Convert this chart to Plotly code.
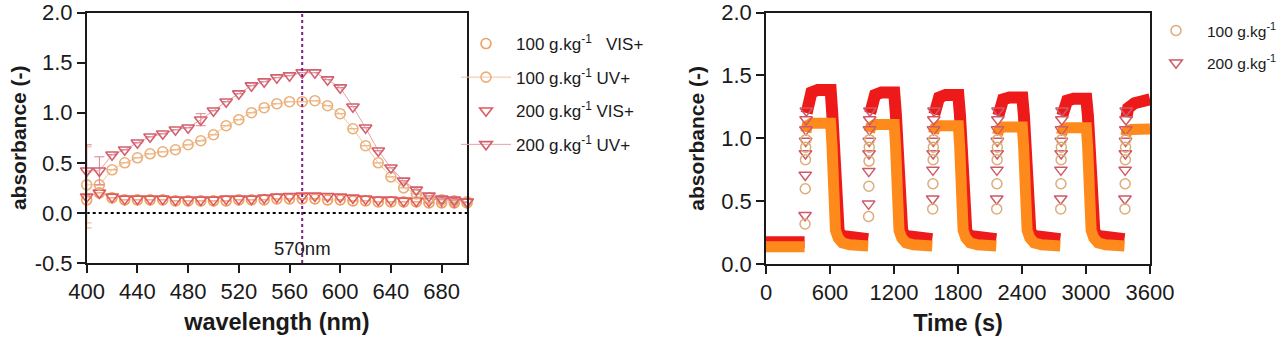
import plotly.graph_objects as go

# ---------------- Left panel: spectra ----------------
wavelength_nm = [400, 410, 420, 430, 440, 450, 460, 470, 480, 490, 500, 510, 520, 530, 540, 550,
                 560, 570, 580, 590, 600, 610, 620, 630, 640, 650, 660, 670, 680, 690, 700]
abs_100_uv = [0.28, 0.28, 0.43, 0.50, 0.55, 0.59, 0.61, 0.63, 0.68, 0.72, 0.78, 0.87, 0.93, 1.00, 1.05, 1.09,
              1.11, 1.11, 1.12, 1.07, 0.99, 0.84, 0.67, 0.50, 0.36, 0.25, 0.19, 0.15, 0.13, 0.12, 0.11]
abs_200_uv = [0.42, 0.42, 0.58, 0.63, 0.70, 0.76, 0.79, 0.83, 0.85, 0.93, 1.02, 1.11, 1.19, 1.27, 1.31, 1.35,
              1.37, 1.40, 1.40, 1.33, 1.25, 1.06, 0.85, 0.62, 0.45, 0.32, 0.23, 0.17, 0.14, 0.13, 0.11]
abs_100_vis = [0.13, 0.20, 0.15, 0.13, 0.13, 0.13, 0.13, 0.12, 0.12, 0.12, 0.12, 0.12, 0.13, 0.13, 0.13, 0.14,
               0.14, 0.14, 0.14, 0.13, 0.13, 0.12, 0.12, 0.11, 0.11, 0.11, 0.11, 0.10, 0.10, 0.10, 0.10]
abs_200_vis = [0.16, 0.20, 0.16, 0.14, 0.14, 0.14, 0.14, 0.13, 0.13, 0.13, 0.13, 0.14, 0.14, 0.14, 0.15, 0.16,
               0.165, 0.17, 0.17, 0.165, 0.16, 0.15, 0.14, 0.13, 0.13, 0.12, 0.12, 0.12, 0.12, 0.11, 0.11]
err_200_uv = {400: 0.26, 410: 0.14, 490: 0.06}
err_100_uv = {400: 0.38}
err_100_vis = {400: 0.28}
peak_nm = 570
x_ticks_nm = [400, 440, 480, 520, 560, 600, 640, 680]
y_ticks_left = [-0.5, 0.0, 0.5, 1.0, 1.5, 2.0]
y_ticktext_left = ["-0.5", "0.0", "0.5", "1.0", "1.5", "2.0"]

# ---------------- Right panel: cycling ----------------
t100_line = [0, 120, 240, 362, None,
             374, 386, 426, 516, 606, 618, 628, 638, 651, 676, 716, 786, 866, 958, None,
             970, 982, 1022, 1112, 1202, 1214, 1224, 1234, 1247, 1272, 1312, 1382, 1462, 1559, None,
             1571, 1583, 1623, 1713, 1803, 1815, 1825, 1835, 1848, 1873, 1913, 1983, 2063, 2159, None,
             2171, 2183, 2223, 2313, 2403, 2415, 2425, 2435, 2448, 2473, 2513, 2583, 2663, 2759, None,
             2771, 2783, 2823, 2913, 3003, 3015, 3025, 3035, 3048, 3073, 3113, 3183, 3263, 3361, None,
             3373, 3385, 3425, 3515, 3600]
a100_line = [0.14, 0.14, 0.14, 0.14, None,
             1.05, 1.10, 1.12, 1.12, 1.12, 0.95, 0.65, 0.40, 0.27, 0.21, 0.17, 0.155, 0.15, 0.145, None,
             1.05, 1.09, 1.11, 1.11, 1.11, 0.95, 0.65, 0.40, 0.27, 0.21, 0.17, 0.155, 0.15, 0.145, None,
             1.04, 1.08, 1.10, 1.10, 1.10, 0.95, 0.65, 0.40, 0.27, 0.21, 0.17, 0.155, 0.15, 0.145, None,
             1.03, 1.07, 1.09, 1.09, 1.09, 0.94, 0.65, 0.40, 0.27, 0.21, 0.17, 0.155, 0.15, 0.145, None,
             1.03, 1.07, 1.085, 1.085, 1.085, 0.94, 0.65, 0.40, 0.27, 0.21, 0.17, 0.155, 0.15, 0.145, None,
             1.02, 1.06, 1.07, 1.075, 1.075]
t200_line = [0, 120, 240, 362, None,
             381, 396, 426, 486, 606, 621, 634, 646, 661, 681, 716, 816, 958, None,
             977, 992, 1022, 1082, 1202, 1217, 1230, 1242, 1257, 1277, 1312, 1412, 1559, None,
             1578, 1593, 1623, 1683, 1803, 1818, 1831, 1843, 1858, 1878, 1913, 2013, 2159, None,
             2178, 2193, 2223, 2283, 2403, 2418, 2431, 2443, 2458, 2478, 2513, 2613, 2759, None,
             2778, 2793, 2823, 2883, 3003, 3018, 3031, 3043, 3058, 3078, 3113, 3213, 3361, None,
             3380, 3395, 3455, 3540, 3600]
a200_line = [0.175, 0.175, 0.175, 0.175, None,
             1.20, 1.30, 1.365, 1.385, 1.385, 1.20, 0.85, 0.55, 0.35, 0.26, 0.225, 0.21, 0.20, None,
             1.20, 1.29, 1.345, 1.365, 1.365, 1.20, 0.85, 0.55, 0.35, 0.26, 0.225, 0.21, 0.20, None,
             1.19, 1.28, 1.325, 1.345, 1.345, 1.19, 0.85, 0.55, 0.35, 0.26, 0.225, 0.21, 0.20, None,
             1.18, 1.27, 1.31, 1.325, 1.325, 1.18, 0.85, 0.55, 0.35, 0.26, 0.225, 0.21, 0.20, None,
             1.18, 1.26, 1.30, 1.315, 1.315, 1.18, 0.85, 0.55, 0.35, 0.26, 0.225, 0.21, 0.20, None,
             1.17, 1.24, 1.28, 1.30, 1.31]
t100_rise = [366, 368, 370, 372, 374,
             962, 964, 966, 968, 970,
             1563, 1565, 1567, 1569, 1571,
             2163, 2165, 2167, 2169, 2171,
             2763, 2765, 2767, 2769, 2771,
             3365, 3367, 3369, 3371, 3373]
a100_rise = [0.32, 0.60, 0.83, 0.93, 0.99,
             0.38, 0.62, 0.82, 0.93, 0.99,
             0.44, 0.64, 0.83, 0.93, 0.99,
             0.44, 0.64, 0.83, 0.93, 0.99,
             0.44, 0.64, 0.83, 0.93, 0.99,
             0.44, 0.64, 0.83, 0.93, 0.99]
t200_rise = [366, 368, 370, 372, 374, 376, 378,
             962, 964, 966, 968, 970, 972, 974,
             1563, 1565, 1567, 1569, 1571, 1573, 1575,
             2163, 2165, 2167, 2169, 2171, 2173, 2175,
             2763, 2765, 2767, 2769, 2771, 2773, 2775,
             3365, 3367, 3369, 3371, 3373, 3375, 3377]
a200_rise = [0.39, 0.71, 0.88, 0.98, 1.07, 1.15, 1.22,
             0.48, 0.74, 0.88, 0.98, 1.07, 1.15, 1.22,
             0.52, 0.75, 0.88, 0.98, 1.07, 1.15, 1.22,
             0.52, 0.75, 0.88, 0.98, 1.07, 1.15, 1.22,
             0.52, 0.75, 0.88, 0.98, 1.07, 1.15, 1.22,
             0.52, 0.75, 0.88, 0.98, 1.07, 1.15, 1.22]
x_ticks_s = [0, 600, 1200, 1800, 2400, 3000, 3600]
y_ticks_right = [0.0, 0.5, 1.0, 1.5, 2.0]
right_legend_labels = ["100 g.kg<sup>-1</sup>", "200 g.kg<sup>-1</sup>"]

FONT = "Liberation Sans, Arial, sans-serif"
TXT = "#1a1a1a"
C_CIRC = "#EBB07A"
C_TRI = "#D2606E"
W, H = 1280, 342


def err_list(d):
    return [d.get(w) for w in wavelength_nm]


fig = go.Figure()

# lower (VIS+) series
fig.add_trace(go.Scatter(
    x=wavelength_nm, y=abs_100_vis, mode="markers", name="100 g.kg<sup>-1</sup>   VIS+",
    marker=dict(symbol="circle-open", size=10, color="#F0A060", line=dict(width=1.6, color="#F0A060")),
    error_y=dict(type="data", array=err_list(err_100_vis), color="#F0A878", thickness=1, width=5),
    cliponaxis=False, legendgroup="a", legendrank=1, xaxis="x", yaxis="y"))
fig.add_trace(go.Scatter(
    x=wavelength_nm, y=abs_200_vis, mode="markers", name="200 g.kg<sup>-1</sup> VIS+",
    marker=dict(symbol="triangle-down-open", size=11, color="#DE5A62", line=dict(width=1.6, color="#DE5A62")),
    cliponaxis=False, legendgroup="c", legendrank=3, xaxis="x", yaxis="y"))
# upper (UV+) series
fig.add_trace(go.Scatter(
    x=wavelength_nm, y=abs_100_uv, mode="lines+markers", name="100 g.kg<sup>-1</sup> UV+",
    line=dict(width=1, color="#F2C49C"),
    marker=dict(symbol="circle-open", size=10, color=C_CIRC, line=dict(width=1.6, color=C_CIRC)),
    error_y=dict(type="data", array=err_list(err_100_uv), color="#EDB48A", thickness=1, width=5),
    cliponaxis=False, legendgroup="b", legendrank=2, xaxis="x", yaxis="y"))
fig.add_trace(go.Scatter(
    x=wavelength_nm, y=abs_200_uv, mode="lines+markers", name="200 g.kg<sup>-1</sup> UV+",
    line=dict(width=1, color="#E8A0A8"),
    marker=dict(symbol="triangle-down-open", size=11, color=C_TRI, line=dict(width=1.6, color=C_TRI)),
    error_y=dict(type="data", array=err_list(err_200_uv), color="#DC8090", thickness=1, width=5),
    cliponaxis=False, legendgroup="d", legendrank=4, xaxis="x", yaxis="y"))

# right panel
fig.add_trace(go.Scatter(
    x=t200_line, y=a200_line, mode="lines", line=dict(width=12, color="#EE1A1A"),
    showlegend=False, xaxis="x2", yaxis="y2", connectgaps=False))
fig.add_trace(go.Scatter(
    x=t100_line, y=a100_line, mode="lines", line=dict(width=11, color="#FF8A1C"),
    showlegend=False, xaxis="x2", yaxis="y2", connectgaps=False))
fig.add_trace(go.Scatter(
    x=t200_rise, y=a200_rise, mode="markers", name=" ",
    marker=dict(symbol="triangle-down-open", size=11, color="#CC5A68", line=dict(width=1.5, color="#CC5A68")),
    legend="legend2", legendgroup="r2", legendrank=2, xaxis="x2", yaxis="y2"))
fig.add_trace(go.Scatter(
    x=t100_rise, y=a100_rise, mode="markers", name=" ",
    marker=dict(symbol="circle-open", size=10, color="#DDAC78", line=dict(width=1.5, color="#DDAC78")),
    legend="legend2", legendgroup="r1", legendrank=1, xaxis="x2", yaxis="y2"))

axis_common = dict(
    showline=True, linecolor=TXT, linewidth=1.5, mirror=True, ticks="outside", ticklen=8,
    tickwidth=1.5, tickcolor=TXT, showgrid=False, zeroline=False, automargin=False,
    ticklabeloverflow="allow", tickfont=dict(family=FONT, size=22, color=TXT))

xtitle_font = dict(size=23.5, family=FONT, color=TXT)
ytitle_font = dict(size=21, family=FONT, color=TXT)

fig.update_layout(
    width=W, height=H, margin=dict(l=0, r=0, t=0, b=0, autoexpand=False),
    paper_bgcolor="white", plot_bgcolor="white",
    font=dict(family=FONT, color=TXT),
    xaxis=dict(domain=[86.7 / W, 467 / W], range=[400, 700], tickvals=x_ticks_nm,
               title=dict(text="<b>wavelength (nm)</b>", font=xtitle_font, standoff=10),
               anchor="y", **axis_common),
    yaxis=dict(domain=[1 - 263 / H, 1 - 12.5 / H], range=[-0.5, 2.0], tickvals=y_ticks_left,
               ticktext=y_ticktext_left,
               title=dict(text="<b>absorbance (-)</b>", font=ytitle_font, standoff=2),
               anchor="x", **axis_common),
    xaxis2=dict(domain=[766 / W, 1150 / W], range=[0, 3600], tickvals=x_ticks_s,
                title=dict(text="<b>Time (s)</b>", font=xtitle_font, standoff=10),
                anchor="y2", **axis_common),
    yaxis2=dict(domain=[1 - 264.3 / H, 1 - 12.5 / H], range=[0, 2.0], tickvals=y_ticks_right, tickformat=".1f",
                title=dict(text="<b>absorbance (-)</b>", font=ytitle_font, standoff=11),
                anchor="x2", **axis_common),
    legend=dict(x=456 / W, y=1 - 26 / H, xanchor="left", yanchor="top", bgcolor="rgba(0,0,0,0)",
                font=dict(family=FONT, size=17, color=TXT), itemwidth=50,
                traceorder="grouped", tracegroupgap=8.5),
    legend2=dict(x=1146 / W, y=1 - 13 / H, xanchor="left", yanchor="top", bgcolor="rgba(0,0,0,0)",
                 font=dict(family=FONT, size=17, color=TXT), itemwidth=50,
                 traceorder="grouped", tracegroupgap=7),
    shapes=[
        dict(type="line", xref="x", yref="y", x0=400, x1=700, y0=0, y1=0,
             line=dict(color="black", width=2, dash="dot"), layer="below"),
        dict(type="line", xref="x", yref="y domain", x0=peak_nm, x1=peak_nm, y0=0, y1=1,
             line=dict(color="#7E1F86", width=2, dash="dot"), layer="above"),
    ],
    annotations=[
        dict(x=peak_nm, y=-0.36, xref="x", yref="y", text=f"{peak_nm}nm", showarrow=False,
             font=dict(family=FONT, size=18.5, color=TXT)),
        dict(x=1205 / W, y=1 - 30 / H, xref="paper", yref="paper", xanchor="left", yanchor="middle",
             text=right_legend_labels[0], showarrow=False, font=dict(family=FONT, size=15.5, color=TXT)),
        dict(x=1205 / W, y=1 - 62 / H, xref="paper", yref="paper", xanchor="left", yanchor="middle",
             text=right_legend_labels[1], showarrow=False, font=dict(family=FONT, size=15.5, color=TXT)),
    ],
)

fig.write_html("out.html")
